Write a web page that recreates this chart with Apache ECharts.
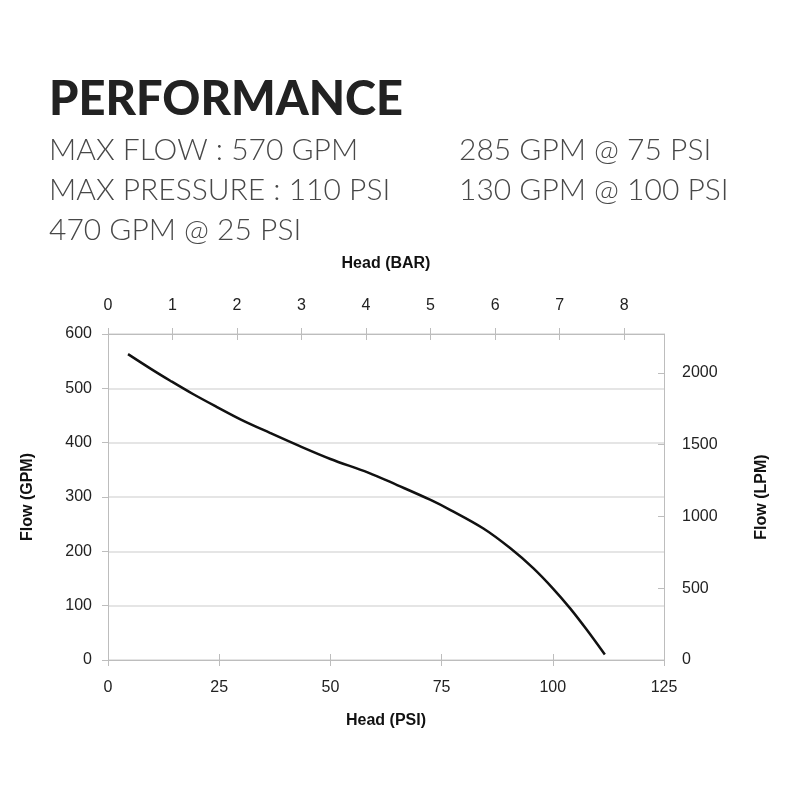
<!DOCTYPE html>
<html>
<head>
<meta charset="utf-8">
<script src="https://cdn.jsdelivr.net/npm/echarts@6/dist/echarts.min.js"></script>
<style>
  html, body { margin: 0; padding: 0; background: #fff; }
  #chart { width: 800px; height: 800px; }
</style>
</head>
<body>
<div id="chart"></div>
<script>
// pump curve: head in PSI, flow in GPM
const headPsi = [4.5, 10, 14, 19, 24.4, 30, 36.4, 43, 50, 58.5, 65, 72.4, 77, 84.4, 90.4, 95.6, 100.1, 103.9, 107.6, 111.7];
const flowGpm = [563, 534, 514, 490, 466, 442, 418, 394, 370, 345, 322, 295, 276, 242, 206, 169, 131, 95, 56, 10];

const specLeft = ["MAX FLOW : 570 GPM", "MAX PRESSURE : 110 PSI", "470 GPM @ 25 PSI"];
const specRight = ["285 GPM @ 75 PSI", "130 GPM @ 100 PSI"];

const PSI_PER_BAR = 14.5038;
const LPM_PER_GPM = 3.78541;
const psiMax = 125;
const gpmMax = 600;

const axisGray = "#bdbdbd";
const labelFont = { color: "#222", fontSize: 16, fontFamily: "Liberation Sans" };
const nameFont = { color: "#111", fontSize: 16, fontWeight: "bold", fontFamily: "Liberation Sans" };
const gridBox = { left: 108, right: 136, top: 334, bottom: 140 };
const lineOpt = { onZero: false, lineStyle: { color: axisGray } };

const titles = [{
  text: "PERFORMANCE",
  left: 44, top: 71,
  textStyle: { fontSize: 47, fontWeight: 900, color: "#222", fontFamily: "Lato" },
}];
specLeft.forEach((t, i) => titles.push({
  text: t, left: 44, top: 130 + i * 40,
  textStyle: { fontSize: 30, fontWeight: 300, color: "#484848", fontFamily: "Lato" },
}));
specRight.forEach((t, i) => titles.push({
  text: t, left: 454, top: 130 + i * 40,
  textStyle: { fontSize: 30, fontWeight: 300, color: "#484848", fontFamily: "Lato" },
}));

// second grid on the same box only carries the inner half of the crossing ticks
const innerTicks = (pos, max, extra) => Object.assign({
  type: "value", gridIndex: 1, position: pos, min: 0, max: max,
  axisLine: { show: false, onZero: false },
  axisLabel: { show: false },
  splitLine: { show: false },
}, extra);

const chart = echarts.init(document.getElementById("chart"));
chart.setOption({
  animation: false,
  title: titles,
  grid: [gridBox, gridBox],
  xAxis: [
    {
      type: "value", gridIndex: 0, position: "bottom", min: 0, max: psiMax, interval: 25,
      name: "Head (PSI)", nameLocation: "middle", nameGap: 53, nameTextStyle: nameFont,
      axisLine: lineOpt,
      axisTick: { length: 6, lineStyle: { color: axisGray } },
      axisLabel: Object.assign({ margin: 20 }, labelFont),
      splitLine: { show: false },
    },
    {
      type: "value", gridIndex: 0, position: "top", min: 0, max: psiMax / PSI_PER_BAR, interval: 1,
      name: "Head (BAR)", nameLocation: "middle", nameGap: 62, nameTextStyle: nameFont,
      axisLine: lineOpt,
      axisTick: { length: 6, lineStyle: { color: axisGray } },
      axisLabel: Object.assign({ margin: 20, showMaxLabel: false }, labelFont),
      splitLine: { show: false },
    },
    innerTicks("bottom", psiMax, {
      interval: 25,
      axisTick: { inside: true, length: 6, lineStyle: { color: axisGray } },
    }),
    innerTicks("top", psiMax / PSI_PER_BAR, {
      interval: 1,
      axisTick: { inside: true, length: 6, lineStyle: { color: axisGray } },
    }),
  ],
  yAxis: [
    {
      type: "value", gridIndex: 0, position: "left", min: 0, max: gpmMax, interval: 100,
      name: "Flow (GPM)", nameLocation: "middle", nameGap: 72, nameTextStyle: nameFont,
      axisLine: Object.assign({ show: true }, lineOpt),
      axisTick: { show: true, length: 6, lineStyle: { color: axisGray } },
      axisLabel: Object.assign({ margin: 16 }, labelFont),
      splitLine: { lineStyle: { color: "#dcdcdc", width: 1.5 } },
    },
    {
      type: "value", gridIndex: 0, position: "right", min: 0, max: gpmMax * LPM_PER_GPM, interval: 500,
      name: "Flow (LPM)", nameLocation: "middle", nameGap: 90, nameTextStyle: nameFont,
      axisLine: Object.assign({ show: true }, lineOpt),
      axisTick: { show: true, inside: true, length: 6, lineStyle: { color: axisGray } },
      axisLabel: Object.assign({ margin: 18, showMaxLabel: false, formatter: (v) => String(v) }, labelFont),
      splitLine: { show: false },
    },
    innerTicks("left", gpmMax, { show: false }),
  ],
  series: [{
    type: "line",
    xAxisIndex: 0,
    yAxisIndex: 0,
    data: headPsi.map((h, i) => [h, flowGpm[i]]),
    smooth: 0.35,
    showSymbol: false,
    lineStyle: { color: "#111", width: 2.5 },
  }],
});
</script>
</body>
</html>
